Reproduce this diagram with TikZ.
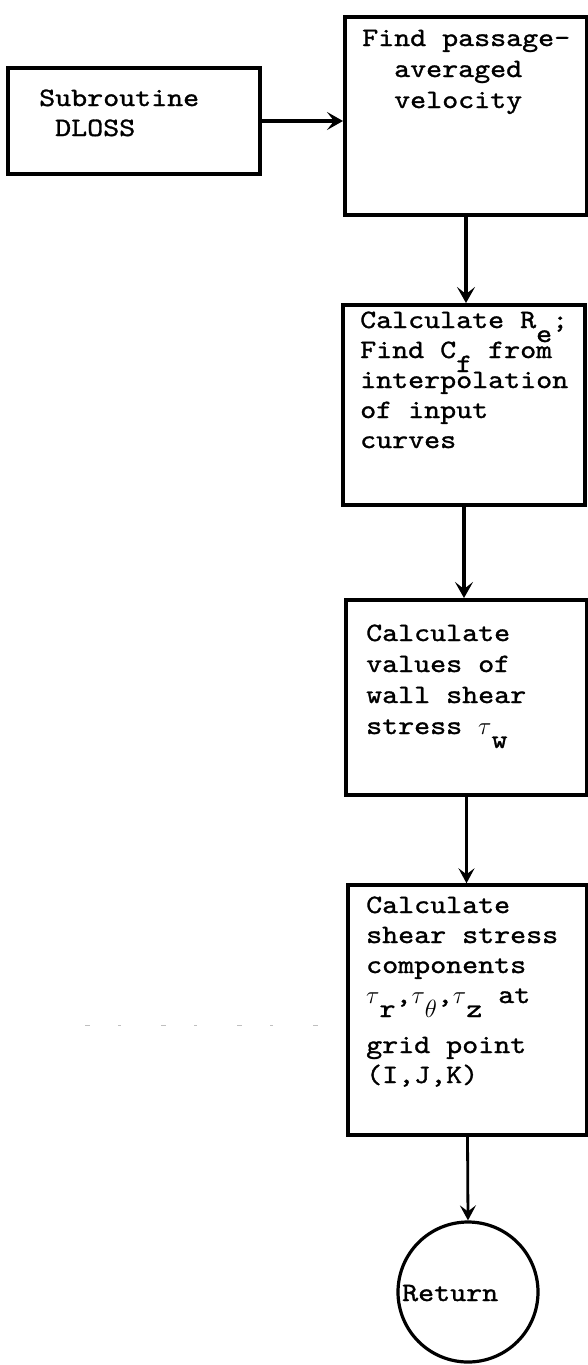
\documentclass[tikz,border=0pt]{standalone}
\usepackage{fontspec}
\usetikzlibrary{arrows.meta}
\newfontfamily\tw{lmmono10-regular}[Extension=.otf, FakeStretch=1.15, FakeBold=1.2]
\newcommand\lowr[1]{\raisebox{-14pt}{#1}}
\tikzset{
  procbox/.style={draw, line width=4pt, rectangle, inner sep=0pt},
  tline/.style={anchor=base west, inner sep=0pt, font=\tw\fontsize{26.5}{30}\selectfont},
  arr/.style={line width=3.6pt, -{Stealth[length=16pt,width=18pt,inset=7pt]}},
  arrthin/.style={line width=2.8pt, -{Stealth[length=15pt,width=16pt,inset=6pt]}}
}
\begin{document}
\begin{tikzpicture}[x=1pt,y=-1pt]
\useasboundingbox (0,0) rectangle (588,1365);
% boxes
\node[procbox, minimum width=252pt, minimum height=106pt] (dloss) at (134,121) {};
\node[procbox, minimum width=242pt, minimum height=198pt] (b1) at (466,116) {};
\node[procbox, minimum width=242pt, minimum height=200pt] (b2) at (464,405) {};
\node[procbox, minimum width=241pt, minimum height=195pt] (b3) at (466.5,697.5) {};
\node[procbox, minimum width=239pt, minimum height=250pt, line width=3.4pt] (b4) at (467.5,1010) {};
\node[draw, circle, line width=3.2pt, minimum size=140pt, inner sep=0pt] (ret) at (468,1292) {};
% texts
\node[tline] (d1) at (39,106) {Subroutine};
\node[tline] (d2) at (55,136) {DLOSS};
\node[tline] (a1) at (362,46) {Find passage-};
\node[tline] (a2) at (394,77) {averaged};
\node[tline] (a3) at (394,108) {velocity};
\node[tline] (c1) at (360,328) {Calculate R\lowr{e};};
\node[tline] (c2) at (360,358) {Find C\lowr{f} from};
\node[tline] (c3) at (360,388) {interpolation};
\node[tline] (c4) at (360,418) {of input};
\node[tline] (c5) at (360,448) {curves};
\node[tline] (e1) at (366,641) {Calculate};
\node[tline] (e2) at (366,672) {values of};
\node[tline] (e3) at (366,703) {wall shear};
\node[tline] (e4) at (366,734) {stress $\tau$\lowr{w}};
\node[tline] (g1) at (366,913) {Calculate};
\node[tline] (g2) at (366,943) {shear stress};
\node[tline] (g3) at (366,973) {components};
\node[tline] (g4) at (366,1003) {$\tau$\lowr{r},$\tau$\lowr{$\theta$},$\tau$\lowr{z} at};
\node[tline] (g5) at (366,1053) {grid point};
\node[tline] (g6) at (366,1083) {(I,J,K)};
\node[tline] (r1) at (402,1301) {Return};
% connectors
\draw[arr] (dloss.east) -- (dloss.east -| b1.west);
\draw[arr] (b1.south) -- (b1.south |- b2.north);
\draw[arr] (b2.south) -- (b2.south |- b3.north);
\draw[arrthin] (b3.south) -- (b3.south |- b4.north);
\draw[arrthin] (b4.south) -- (ret.north);
% faint scan marks
\draw[gray!50, line width=1pt, dash pattern=on 5pt off 28pt on 3pt off 40pt] (85,1025) -- (345,1025);
\end{tikzpicture}
\end{document}
